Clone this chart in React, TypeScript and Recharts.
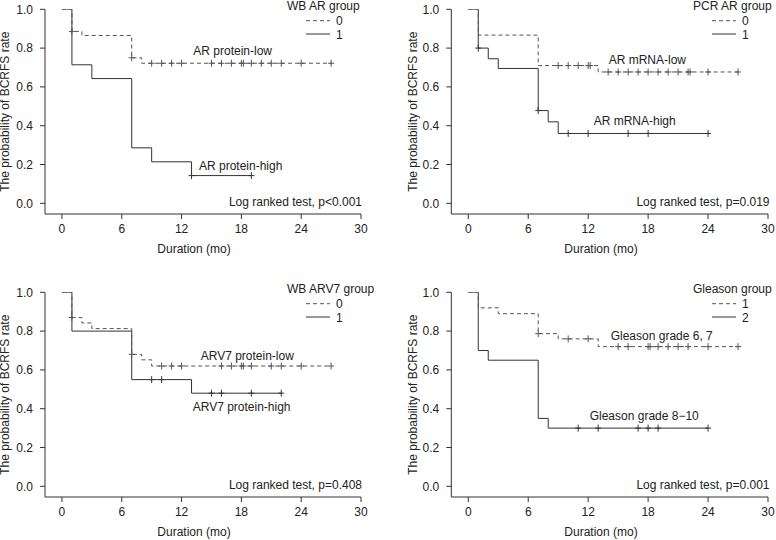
import React from 'react';
import { ComposedChart, Line, Scatter, XAxis, YAxis } from 'recharts';

const FONT = '"Liberation Sans", Arial, Helvetica, sans-serif';
const TEXT = '#222';
const AXIS = '#333';
const SOLID = '#333';
const DASHED = '#555';

const xTicks = [0, 6, 12, 18, 24, 30];
const yTicks = [0, 0.2, 0.4, 0.6, 0.8, 1.0];

// Panel 1: WB AR group
const p1LowTimes = [0, 1, 2, 7, 8, 27];
const p1LowSurv = [1, 0.886, 0.865, 0.75, 0.722, 0.722];
const p1LowCensor = [1, 7, 9, 10, 11, 12, 15, 16, 17, 18, 18.2, 19, 20, 21, 22, 24, 27];
const p1HighTimes = [0, 1, 3, 7, 9, 13, 19];
const p1HighSurv = [1, 0.714, 0.643, 0.286, 0.214, 0.143, 0.143];
const p1HighCensor = [13, 19];

// Panel 2: PCR AR group
const p2LowTimes = [0, 1, 7, 13, 27];
const p2LowSurv = [1, 0.867, 0.71, 0.677, 0.677];
const p2LowCensor = [9, 10, 11, 12, 12.2, 14, 15, 16, 17, 18, 19, 20, 21, 22, 22.2, 24, 27];
const p2HighTimes = [0, 1, 2, 3, 7, 8, 9, 24];
const p2HighSurv = [1, 0.8, 0.745, 0.695, 0.478, 0.42, 0.36, 0.36];
const p2HighCensor = [1, 7, 10, 12, 16, 18, 24];

// Panel 3: WB ARV7 group
const p3LowTimes = [0, 1, 2, 3, 7, 8, 9, 27];
const p3LowSurv = [1, 0.87, 0.842, 0.813, 0.68, 0.652, 0.62, 0.62];
const p3LowCensor = [1, 7, 10, 11, 12, 16, 17, 18, 18.2, 19, 21, 22, 24, 27];
const p3HighTimes = [0, 1, 7, 13, 22];
const p3HighSurv = [1, 0.8, 0.55, 0.48, 0.48];
const p3HighCensor = [9, 10, 15, 16, 19, 22];

// Panel 4: Gleason group
const p4LowTimes = [0, 1, 3, 7, 9, 13, 27];
const p4LowSurv = [1, 0.92, 0.89, 0.787, 0.76, 0.72, 0.72];
const p4LowCensor = [7, 10, 12, 15, 16, 18, 18.2, 19, 20, 21, 22, 24, 27];
const p4HighTimes = [0, 1, 2, 7, 8, 24];
const p4HighSurv = [1, 0.7, 0.65, 0.35, 0.3, 0.3];
const p4HighCensor = [11, 13, 17, 18, 19, 24];

const toSteps = (times: number[], surv: number[]) => times.map((t, i) => ({ t, s: surv[i] }));
const survAt = (times: number[], surv: number[], t: number) => {
  let v = surv[0];
  for (let i = 0; i < times.length; i++) if (times[i] <= t) v = surv[i];
  return v;
};
const toCensor = (times: number[], surv: number[], cens: number[]) =>
  cens.map((t) => ({ t, s: survAt(times, surv, t) }));

const LEFT = { margin: { top: 9.3, right: 27, bottom: 26, left: 5 }, yLabelX: 9.5, xLabelX: 194, legendX: 287, pX: 362 };
const RIGHT = { margin: { top: 9.3, right: 8, bottom: 26, left: 23.3 }, yLabelX: 29, xLabelX: 213, legendX: 305, pX: 381.5 };

const panels = [
  {
    left: 0, top: 0, layout: LEFT, title: 'WB AR group', keys: ['0', '1'], p: 'Log ranked test, p<0.001',
    low: [p1LowTimes, p1LowSurv, p1LowCensor], high: [p1HighTimes, p1HighSurv, p1HighCensor],
    notes: [['AR protein-low', 193.3, 55], ['AR protein-high', 199, 170.3]],
  },
  {
    left: 388, top: 0, layout: RIGHT, title: 'PCR AR group', keys: ['0', '1'], p: 'Log ranked test, p=0.019',
    low: [p2LowTimes, p2LowSurv, p2LowCensor], high: [p2HighTimes, p2HighSurv, p2HighCensor],
    notes: [['AR mRNA-low', 220.7, 63.6], ['AR mRNA-high', 205.7, 125.3]],
  },
  {
    left: 0, top: 283, layout: LEFT, title: 'WB ARV7 group', keys: ['0', '1'], p: 'Log ranked test, p=0.408',
    low: [p3LowTimes, p3LowSurv, p3LowCensor], high: [p3HighTimes, p3HighSurv, p3HighCensor],
    notes: [['ARV7 protein-low', 200.7, 77.3], ['ARV7 protein-high', 192.7, 128.3]],
  },
  {
    left: 388, top: 283, layout: RIGHT, title: 'Gleason group', keys: ['1', '2'], p: 'Log ranked test, p=0.001',
    low: [p4LowTimes, p4LowSurv, p4LowCensor], high: [p4HighTimes, p4HighSurv, p4HighCensor],
    notes: [['Gleason grade 6, 7', 222.7, 56.6], ['Gleason grade 8\u221210', 201.7, 137.3]],
  },
];

const plusShape = (color: string) => (props: any) => {
  const { cx, cy } = props;
  if (cx == null || cy == null) return <g />;
  return (
    <g>
      <line x1={cx} x2={cx} y1={cy - 3.5} y2={cy + 3.5} stroke={color} strokeWidth={1} />
      <line x1={cx - 3} x2={cx + 3} y1={cy} y2={cy} stroke={color} strokeWidth={1} />
    </g>
  );
};

function Panel({ cfg }: { cfg: any }) {
  const L = cfg.layout;
  const [lt, ls, lc] = cfg.low;
  const [ht, hs, hc] = cfg.high;
  const tickStyle = { fontFamily: FONT, fontSize: 12, fill: TEXT };
  const textStyle = { fontFamily: FONT, fontSize: 12, fill: TEXT } as any;
  return (
    <div style={{ position: 'absolute', left: cfg.left, top: cfg.top, width: 388, height: 270 }}>
      <ComposedChart width={388} height={270} margin={L.margin}>
        <XAxis
          type="number" dataKey="t" domain={[-1.7, 30]} ticks={xTicks} height={30}
          tickSize={5} tickMargin={5} tick={tickStyle} stroke={AXIS} allowDataOverflow
        />
        <YAxis
          type="number" dataKey="s" domain={[-0.055, 1]} ticks={yTicks} width={40}
          tickSize={5} tickMargin={7} tick={tickStyle} stroke={AXIS} allowDataOverflow
          tickFormatter={(v: number) => v.toFixed(1)}
        />
        <Line data={toSteps(ht, hs)} dataKey="s" type="stepAfter" stroke={SOLID} strokeWidth={1}
          dot={false} activeDot={false} isAnimationActive={false} />
        <Line data={toSteps(lt, ls)} dataKey="s" type="stepAfter" stroke={DASHED} strokeWidth={1}
          strokeDasharray="4 3" dot={false} activeDot={false} isAnimationActive={false} />
        <Scatter data={toCensor(ht, hs, hc)} dataKey="s" shape={plusShape(SOLID)} isAnimationActive={false} />
        <Scatter data={toCensor(lt, ls, lc)} dataKey="s" shape={plusShape(DASHED)} isAnimationActive={false} />
      </ComposedChart>
      <svg width={388} height={270} style={{ position: 'absolute', left: 0, top: 0, overflow: 'visible', pointerEvents: 'none' }}>
        <text x={L.legendX} y={10} {...textStyle}>{cfg.title}</text>
        <line x1={L.legendX + 19} x2={L.legendX + 43} y1={20.7} y2={20.7} stroke={DASHED} strokeDasharray="4 3" />
        <text x={L.legendX + 49} y={25} {...textStyle}>{cfg.keys[0]}</text>
        <line x1={L.legendX + 19} x2={L.legendX + 43} y1={34} y2={34} stroke={SOLID} />
        <text x={L.legendX + 49} y={38.5} {...textStyle}>{cfg.keys[1]}</text>
        {cfg.notes.map((n: any, i: number) => (
          <text key={i} x={n[1]} y={n[2]} {...textStyle}>{n[0]}</text>
        ))}
        <text x={L.pX} y={205.7} textAnchor="end" {...textStyle}>{cfg.p}</text>
        <text x={L.xLabelX} y={252.5} textAnchor="middle" {...textStyle}>Duration (mo)</text>
        <text
          x={L.yLabelX} y={111.7} textAnchor="middle" {...textStyle}
          transform={`rotate(-90 ${L.yLabelX} 111.7)`}
        >The probability of BCRFS rate</text>
      </svg>
    </div>
  );
}

export default function App() {
  return (
    <div style={{ position: 'absolute', left: 0, top: 0, width: 776, height: 540, overflow: 'hidden', background: '#fff' }}>
      {panels.map((p, i) => <Panel key={i} cfg={p} />)}
    </div>
  );
}
